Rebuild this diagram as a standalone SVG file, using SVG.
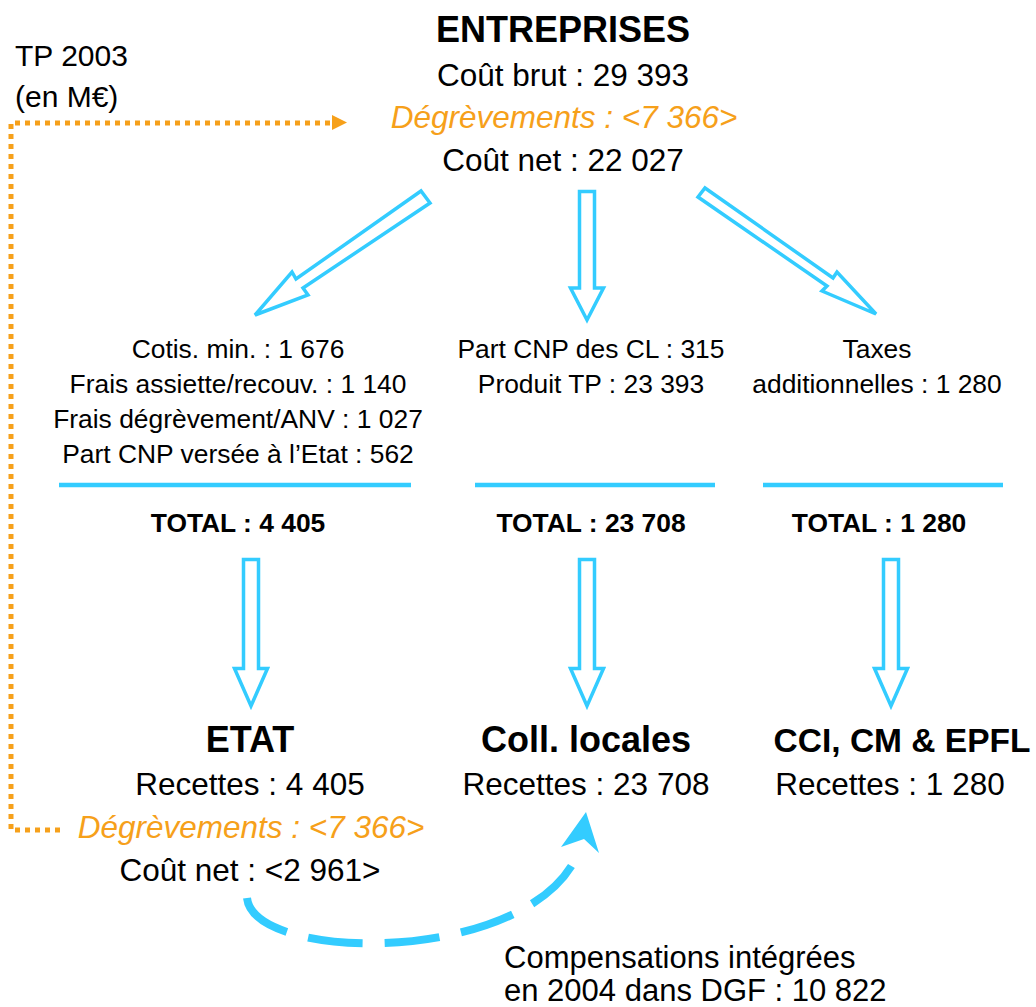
<svg xmlns="http://www.w3.org/2000/svg" width="1036" height="1007" viewBox="0 0 1036 1007">
  <style>
    text { font-family: "Liberation Sans", Arial, Helvetica, sans-serif; fill: #000; text-anchor: middle; }
    .title { font-size: 36px; font-weight: bold; }
    .main { font-size: 31.5px; }
    .deg { font-size: 31.5px; font-style: italic; fill: #F6A01A; }
    .small { font-size: 26.4px; }
    .total { font-size: 26.4px; font-weight: bold; }
    .note { font-size: 30px; text-anchor: start; }
    .comp { font-size: 31px; text-anchor: start; }
    .block-arrow { fill: #fff; stroke: #33CCFF; stroke-width: 3.5; stroke-linejoin: miter; }
    .rule { stroke: #33CCFF; stroke-width: 4.5; }
    .dotted { fill: none; stroke: #F6A01A; stroke-width: 5; stroke-dasharray: 5 5; }
    .dashed { fill: none; stroke: #33CCFF; stroke-width: 8; stroke-dasharray: 55 22; }
  </style>

  <!-- legend -->
  <g id="legend">
    <text class="note" x="15" y="66">TP 2003</text>
    <text class="note" x="15" y="107">(en M€)</text>
  </g>

  <!-- top node -->
  <g id="entreprises">
    <text class="title" x="563" y="42">ENTREPRISES</text>
    <text class="main" x="563" y="86">Coût brut : 29 393</text>
    <text class="deg" x="564" y="128">Dégrèvements : &lt;7 366&gt;</text>
    <text class="main" x="563" y="171">Coût net : 22 027</text>
  </g>

  <!-- intermediate breakdowns -->
  <g id="part-etat">
    <text class="small" x="238" y="358">Cotis. min. : 1 676</text>
    <text class="small" x="238" y="393">Frais assiette/recouv. : 1 140</text>
    <text class="small" x="238" y="428">Frais dégrèvement/ANV : 1 027</text>
    <text class="small" x="238" y="463">Part CNP versée à l’Etat : 562</text>
    <line class="rule" x1="59" y1="485" x2="411" y2="485"/>
    <text class="total" x="238" y="532">TOTAL : 4 405</text>
  </g>

  <g id="part-cl">
    <text class="small" x="591" y="358">Part CNP des CL : 315</text>
    <text class="small" x="591" y="393">Produit TP : 23 393</text>
    <line class="rule" x1="475" y1="485" x2="715" y2="485"/>
    <text class="total" x="591" y="532">TOTAL : 23 708</text>
  </g>

  <g id="part-cci">
    <text class="small" x="877" y="358">Taxes</text>
    <text class="small" x="877" y="393">additionnelles : 1 280</text>
    <line class="rule" x1="763" y1="485" x2="1003" y2="485"/>
    <text class="total" x="879" y="532">TOTAL : 1 280</text>
  </g>

  <!-- beneficiaries -->
  <g id="etat">
    <text class="title" x="250" y="752">ETAT</text>
    <text class="main" x="250" y="795">Recettes : 4 405</text>
    <text class="deg" x="251" y="838">Dégrèvements : &lt;7 366&gt;</text>
    <text class="main" x="250" y="881">Coût net : &lt;2 961&gt;</text>
  </g>

  <g id="coll-locales">
    <text class="title" x="586" y="752">Coll. locales</text>
    <text class="main" x="586" y="795">Recettes : 23 708</text>
  </g>

  <g id="cci-cm-epfl">
    <text class="title" x="902" y="752" style="font-size:33.5px">CCI, CM &amp; EPFL</text>
    <text class="main" x="890" y="795">Recettes : 1 280</text>
  </g>

  <g id="compensations">
    <text class="comp" x="504" y="968">Compensations intégrées</text>
    <text class="comp" x="504" y="1001">en 2004 dans DGF : 10 822</text>
  </g>

  <!-- connectors -->
  <g id="connectors">
    <!-- hollow block arrows from the top node -->
    <polygon class="block-arrow" points="421,191 296,279 292,272 255,315 308,295 303,288 430,203"/>
    <polygon class="block-arrow" points="579.5,191.5 594.5,191.5 594.5,288 603.5,288 587,320 570.5,288 579.5,288"/>
    <polygon class="block-arrow" points="705,188 833,278 837,272 876,314 822,291 827,286 698,197"/>

    <!-- hollow block arrows to the beneficiaries -->
    <polygon class="block-arrow" points="243.5,559.5 258.5,559.5 258.5,668.5 267.5,668.5 251,706 234.5,668.5 243.5,668.5"/>
    <polygon class="block-arrow" points="579.5,559.5 594.5,559.5 594.5,668.5 603.5,668.5 587,706 570.5,668.5 579.5,668.5"/>
    <polygon class="block-arrow" points="883.5,559.5 898.5,559.5 898.5,668.5 907.5,668.5 891,706 874.5,668.5 883.5,668.5"/>

    <!-- dotted link for the tax relief -->
    <path class="dotted" d="M 60 830 H 11 V 123 H 330"/>
    <polygon points="332,115 347,122.5 332,130" fill="#F6A01A"/>

    <!-- dashed curved transfer arrow -->
    <path class="dashed" d="M 247 898 C 255 965, 540 965, 580 848"/>
    <polygon points="586,812 599,853 584,839 561,847" fill="#33CCFF"/>
  </g>
</svg>
